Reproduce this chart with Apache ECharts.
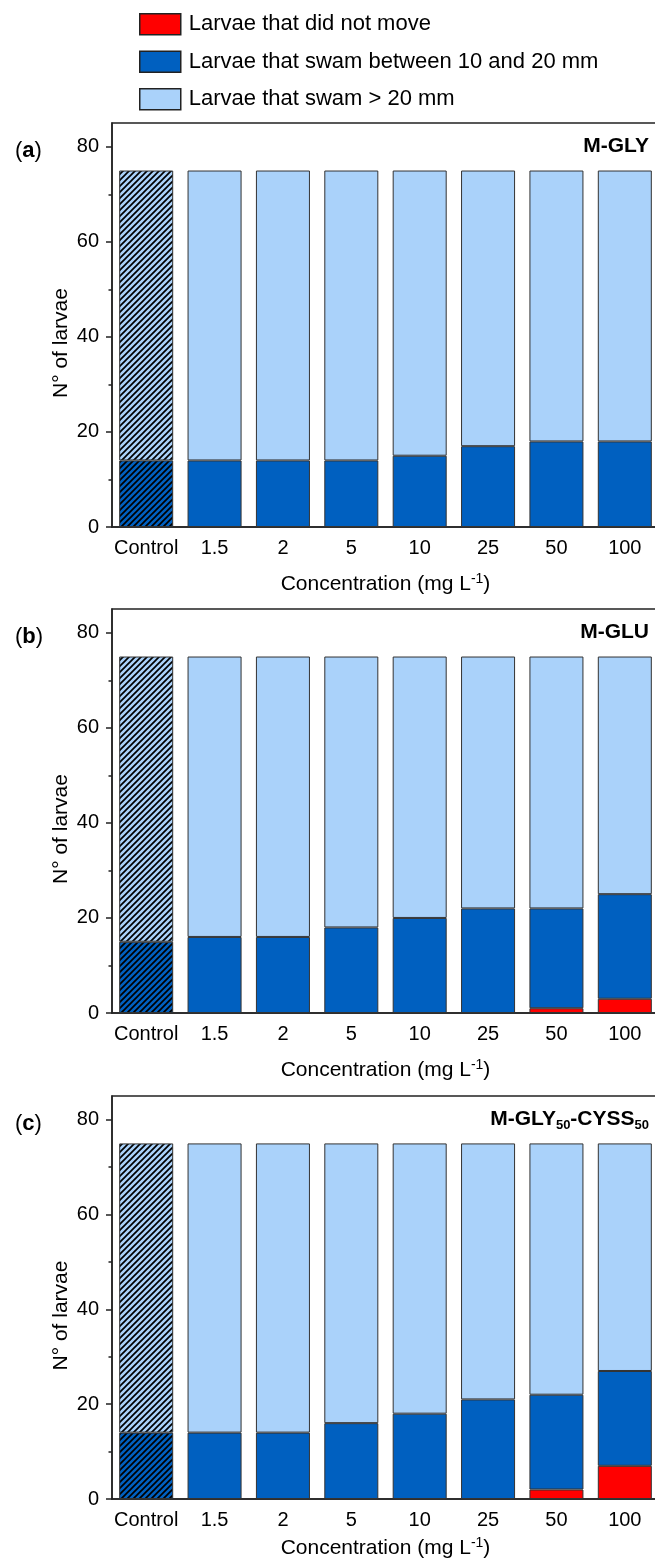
<!DOCTYPE html>
<html><head><meta charset="utf-8">
<script src="https://cdn.jsdelivr.net/npm/echarts@6/dist/echarts.min.js"></script>
<style>html,body{margin:0;padding:0;background:#fff}#c{width:655px;height:1562px}</style>
</head><body><div id="c"></div>
<script>
const categories = ['Control', '1.5', '2', '5', '10', '25', '50', '100'];
const seriesNames = ['Larvae that did not move', 'Larvae that swam between 10 and 20 mm', 'Larvae that swam > 20 mm'];
const yTicks = [0, 20, 40, 60, 80];
const yMinorTicks = [10, 30, 50, 70];
// (a) M-GLY
const aRed = [0, 0, 0, 0, 0, 0, 0, 0];
const aMid = [14, 14, 14, 14, 15, 17, 18, 18];
const aHigh = [61, 61, 61, 61, 60, 58, 57, 57];
// (b) M-GLU
const bRed = [0, 0, 0, 0, 0, 0, 1, 3];
const bMid = [15, 16, 16, 18, 20, 22, 21, 22];
const bHigh = [60, 59, 59, 57, 55, 53, 53, 50];
// (c) M-GLY50-CYSS50
const cRed = [0, 0, 0, 0, 0, 0, 2, 7];
const cMid = [14, 14, 14, 16, 18, 21, 20, 20];
const cHigh = [61, 61, 61, 59, 57, 54, 53, 48];

const panelData = [[aRed, aMid, aHigh], [bRed, bMid, bHigh], [cRed, cMid, cHigh]];
const panelLetters = ['a', 'b', 'c'];
const panelTitles = ['{b|M-GLY}', '{b|M-GLU}', '{b|M-GLY}{s|50}{b|-CYSS}{s|50}'];

const FONT = "'Liberation Sans', Arial, Helvetica, sans-serif";
const colors = ['#FF0000', '#0060C0', '#AAD2FA'];
const gridTops = [123, 609, 1096];
const gridHeights = [404, 404, 403];
const xNameGaps = [45, 45, 37];
const GL = 112, GW = 547;
const lineCol = '#222';

function hatch(bg) {
  const s = 6, cv = document.createElement('canvas');
  cv.width = s; cv.height = s;
  const g = cv.getContext('2d');
  g.fillStyle = bg; g.fillRect(0, 0, s, s);
  g.strokeStyle = '#000'; g.lineWidth = 1.7;
  g.beginPath();
  g.moveTo(-1, s + 1); g.lineTo(s + 1, -1);
  g.moveTo(-1, 1); g.lineTo(1, -1);
  g.moveTo(s - 1, s + 1); g.lineTo(s + 1, s - 1);
  g.stroke();
  return { image: cv, repeat: 'repeat' };
}

const grids = [], xAxes = [], yAxes = [], series = [], graphics = [];
for (let p = 0; p < 3; p++) {
  grids.push({ left: GL, top: gridTops[p], width: GW, height: gridHeights[p], show: true,
    borderColor: lineCol, borderWidth: 1.5, backgroundColor: 'transparent', outerBoundsMode: 'none', containLabel: false });
  xAxes.push({ type: 'category', gridIndex: p, data: categories,
    axisLine: { lineStyle: { color: lineCol, width: 1.5 } },
    axisTick: { alignWithLabel: true, length: 6, interval: 0, lineStyle: { color: lineCol, width: 1.5 } },
    axisLabel: { interval: 0, fontSize: 20, color: '#000', margin: 11, fontFamily: FONT },
    name: 'Concentration (mg L{sup|-1})', nameLocation: 'middle', nameGap: xNameGaps[p],
    nameTextStyle: { fontSize: 21, color: '#000', fontFamily: FONT, lineHeight: 24,
      rich: { sup: { fontSize: 14, lineHeight: 14, verticalAlign: 'top', fontFamily: FONT, color: '#000' } } }
  });
  yAxes.push({ type: 'value', gridIndex: p, min: 0, max: 85, interval: 20, position: 'left',
    axisLine: { show: true, lineStyle: { color: lineCol, width: 1.5 } },
    axisTick: { show: true, length: 6, customValues: yTicks, lineStyle: { color: lineCol, width: 1.5 } },
    axisLabel: { fontSize: 20, color: '#000', margin: 13, fontFamily: FONT, customValues: yTicks },
    splitLine: { show: false },
    name: 'N° of larvae', nameLocation: 'middle', nameGap: 40, nameMoveOverlap: false,
    nameTextStyle: { fontSize: 21, color: '#000', fontFamily: FONT, padding: [0, 36, 0, 0] }
  });
  yAxes.push({ type: 'value', gridIndex: p, min: 0, max: 85, interval: 10, position: 'left',
    axisLine: { show: false },
    axisTick: { show: true, length: 3.5, customValues: yMinorTicks, lineStyle: { color: lineCol, width: 1.5 } },
    axisLabel: { show: false }, splitLine: { show: false }
  });
  for (let k = 0; k < 3; k++) {
    const arr = panelData[p][k];
    series.push({ type: 'bar', name: seriesNames[k], xAxisIndex: p, yAxisIndex: p * 2, stack: 'st' + p,
      barCategoryGap: '21%',
      itemStyle: { color: colors[k], borderColor: '#333', borderWidth: 1 },
      emphasis: { disabled: true },
      data: arr.map((v, i) => {
        const d = { value: v === 0 ? '-' : v };
        if (i === 0) d.itemStyle = { color: hatch(colors[k]) };
        return d;
      })
    });
  }
  const gy = gridTops[p];
  graphics.push({ type: 'text', x: 15, y: gy + 28, silent: true,
    style: { text: '({b|' + panelLetters[p] + '})', fill: '#000', font: '22px ' + FONT, verticalAlign: 'middle', align: 'left',
      rich: { b: { fontWeight: 'bold', fontSize: 22, fontFamily: FONT, fill: '#000' } } } });
  graphics.push({ type: 'text', x: 649, y: gy + 23, silent: true,
    style: { text: panelTitles[p], fill: '#000', verticalAlign: 'middle', align: 'right', font: 'bold 21px ' + FONT,
      rich: { b: { fontWeight: 'bold', fontSize: 21, lineHeight: 26, fontFamily: FONT, fill: '#000' },
              s: { fontWeight: 'bold', fontSize: 13, lineHeight: 13, verticalAlign: 'bottom', fontFamily: FONT, fill: '#000' } } } });
}

const chart = echarts.init(document.getElementById('c'), null, { renderer: 'canvas', devicePixelRatio: 1 });
chart.setOption({
  animation: false,
  backgroundColor: '#fff',
  textStyle: { fontFamily: FONT },
  legend: { orient: 'vertical', left: 134, top: 8, itemWidth: 41, itemHeight: 21, itemGap: 15,
    icon: 'rect', selectedMode: false, data: seriesNames,
    itemStyle: { borderColor: lineCol, borderWidth: 1.5 },
    textStyle: { fontSize: 22, color: '#000', fontFamily: FONT, padding: [0, 0, 0, 3] } },
  grid: grids, xAxis: xAxes, yAxis: yAxes, series: series, graphic: graphics
});
</script></body></html>
